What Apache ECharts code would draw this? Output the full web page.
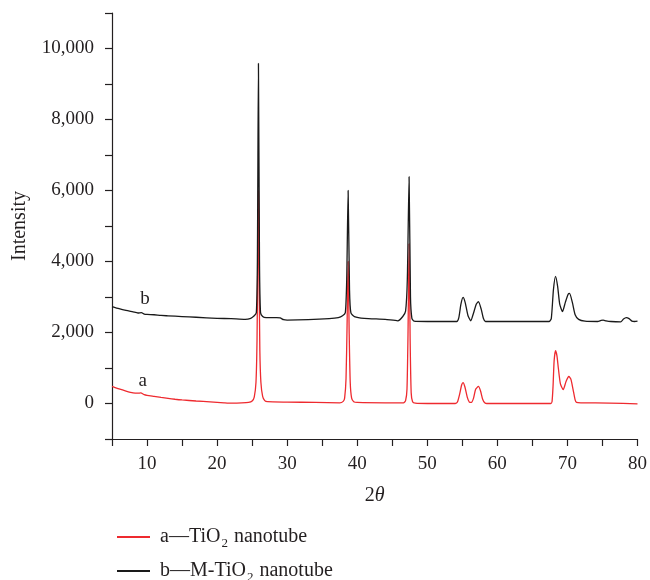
<!DOCTYPE html>
<html>
<head>
<meta charset="utf-8">
<script src="https://cdn.jsdelivr.net/npm/echarts@6/dist/echarts.min.js"></script>
<style>
html,body{margin:0;padding:0;background:#fff;}
#chart{width:650px;height:580px;}
</style>
</head>
<body>
<div id="chart"></div>
<script>
// 2θ values and intensities
var seriesNames = ['a—TiO2 nanotube', 'b—M-TiO2 nanotube'];
var curveLabels = ['a', 'b'];
var labelPositions = [[9.4, 620], [9.7, 2950]];

var curveA = [
  [5,480],[6,410],[7,350],[8,300],[8.7,290],[9.1,300],[9.6,250],[10,230],[11,200],[12,170],[13,145],[14,120],[15,100],[17,70],[19,45],[21,20],[22,10],[23.5,15],[24.5,30],[25.0,70],[25.3,180],[25.55,600],[25.7,1800],[25.8,4000],[25.9,6000],[26.0,3500],[26.1,1500],[26.25,600],[26.5,200],[26.8,80],[27.2,50],[30,40],[34,30],[37.5,20],[38.0,60],[38.2,150],[38.4,700],[38.55,2200],[38.7,4000],[38.85,2000],[39.0,600],[39.2,150],[39.5,50],[40,30],[44,20],[46.6,20],[46.9,80],[47.1,400],[47.25,2000],[47.4,4500],[47.55,1800],[47.7,300],[47.9,50],[48.3,10],[50,0],[54.0,0],[54.3,40],[54.6,250],[54.9,520],[55.1,590],[55.35,480],[55.7,180],[56.0,40],[56.3,30],[56.6,150],[56.9,400],[57.3,480],[57.6,350],[57.9,120],[58.2,20],[58.5,0],[62,0],[67.6,0],[67.8,50],[67.95,500],[68.1,1200],[68.3,1490],[68.5,1350],[68.7,1000],[69.0,550],[69.4,390],[69.8,620],[70.2,760],[70.5,680],[70.8,400],[71.1,100],[71.3,30],[72,20],[76,10],[80,-10]
];
var curveB = [
  [5,2730],[6,2670],[7,2620],[8,2580],[8.7,2550],[9.2,2560],[9.6,2520],[10,2510],[11,2500],[12,2480],[13,2470],[15,2450],[17,2430],[20,2400],[22,2390],[24,2370],[24.8,2400],[25.3,2470],[25.6,2560],[25.75,4000],[25.9,9580],[26.05,4000],[26.2,2560],[26.5,2450],[27,2420],[28.5,2420],[29.0,2410],[29.5,2360],[30,2350],[33,2360],[36,2390],[37.3,2420],[37.9,2470],[38.3,2560],[38.5,3500],[38.7,6000],[38.9,3200],[39.1,2550],[39.6,2450],[41,2400],[44,2370],[45.8,2330],[46.5,2450],[46.9,2600],[47.15,3500],[47.4,6390],[47.6,3000],[47.8,2400],[48.1,2320],[50,2310],[54.2,2310],[54.5,2420],[54.8,2800],[55.1,2990],[55.4,2850],[55.8,2480],[56.2,2330],[56.6,2550],[57.0,2800],[57.3,2870],[57.7,2650],[58.0,2400],[58.3,2310],[62,2310],[67.4,2310],[67.7,2400],[68.0,3200],[68.3,3580],[68.6,3300],[68.9,2800],[69.3,2590],[69.7,2850],[70.1,3080],[70.3,3100],[70.7,2850],[71.1,2500],[71.6,2370],[72.5,2320],[74.3,2310],[74.8,2340],[75.1,2350],[75.5,2330],[76.2,2310],[77.6,2300],[78.0,2380],[78.4,2420],[78.8,2390],[79.2,2320],[79.6,2310],[80,2320]
];

var xMin = 5, xMax = 80, xStep = 5;
var yMin = -1000, yMax = 11000, yStep = 1000;

var FONT = '"Liberation Serif", "DejaVu Serif", serif';
var TXT = '#231f20';
var colors = ['#ee2a2f', '#1a1a1a'];
var legendTops = [522, 556];

var chart = echarts.init(document.getElementById('chart'));

function labelPoint(i) {
  return {
    symbol: 'circle', symbolSize: 0, silent: true,
    data: [{ coord: labelPositions[i], value: curveLabels[i] }],
    label: { show: true, position: 'inside', formatter: curveLabels[i], color: TXT, fontFamily: FONT, fontSize: 19 }
  };
}

function legendFor(i) {
  return {
    orient: 'vertical', left: 112, top: legendTops[i],
    itemWidth: 33, itemHeight: 2, itemGap: 0, icon: 'rect',
    data: [seriesNames[i]],
    selectedMode: false,
    textStyle: {
      fontFamily: FONT, fontSize: 20, color: TXT, lineHeight: 20, padding: [0, 0, 0, 5],
      rich: {
        t: { fontFamily: FONT, fontSize: 20, color: TXT, lineHeight: 20 },
        sub: { fontFamily: FONT, fontSize: 13, color: TXT, lineHeight: 12, verticalAlign: 'bottom', padding: [0, 1, -3, 1] }
      }
    },
    formatter: function (name) {
      var parts = name.split('TiO2');
      return '{t|' + parts[0] + 'TiO}{sub|2}{t|' + parts[1] + '}';
    }
  };
}

var option = {
  animation: false,
  backgroundColor: '#fff',
  grid: { left: 112, right: 11, top: 13, bottom: 141, containLabel: false },
  legend: [legendFor(0), legendFor(1)],
  xAxis: {
    type: 'value', min: xMin, max: xMax, interval: xStep,
    name: '2{i|θ}', nameLocation: 'middle', nameGap: 47,
    nameTextStyle: {
      fontFamily: FONT, fontSize: 20, color: TXT,
      rich: { i: { fontFamily: FONT, fontSize: 20, fontStyle: 'italic', color: TXT } }
    },
    axisLine: { show: true, onZero: false, lineStyle: { color: '#231f20', width: 1.2 } },
    axisTick: { show: true, inside: false, length: 7, lineStyle: { color: '#231f20', width: 1.2 } },
    axisLabel: {
      margin: 16, fontFamily: FONT, fontSize: 19, color: TXT,
      formatter: function (v) { return v % 10 === 0 ? String(v) : ''; }
    },
    splitLine: { show: false }
  },
  yAxis: {
    type: 'value', min: yMin, max: yMax, interval: yStep,
    name: 'Intensity', nameLocation: 'middle', nameGap: 82, nameRotate: 90,
    nameTextStyle: { fontFamily: FONT, fontSize: 20, color: TXT },
    axisLine: { show: true, onZero: false, lineStyle: { color: '#231f20', width: 1.2 } },
    axisTick: { show: true, inside: false, length: 7, lineStyle: { color: '#231f20', width: 1.2 } },
    axisLabel: {
      margin: 18, fontFamily: FONT, fontSize: 19, color: TXT,
      formatter: function (v) {
        if (v < 0 || v % 2000 !== 0) return '';
        return v.toLocaleString('en-US');
      }
    },
    splitLine: { show: false }
  },
  series: [
    {
      name: seriesNames[0], type: 'line', data: curveA, symbol: 'none', smooth: 0.2,
      lineStyle: { color: colors[0], width: 1.3 }, itemStyle: { color: colors[0] },
      markPoint: labelPoint(0), z: 2
    },
    {
      name: seriesNames[1], type: 'line', data: curveB, symbol: 'none', smooth: 0.2,
      lineStyle: { color: colors[1], width: 1.3 }, itemStyle: { color: colors[1] },
      markPoint: labelPoint(1), z: 3
    }
  ]
};
chart.setOption(option);
</script>
</body>
</html>
